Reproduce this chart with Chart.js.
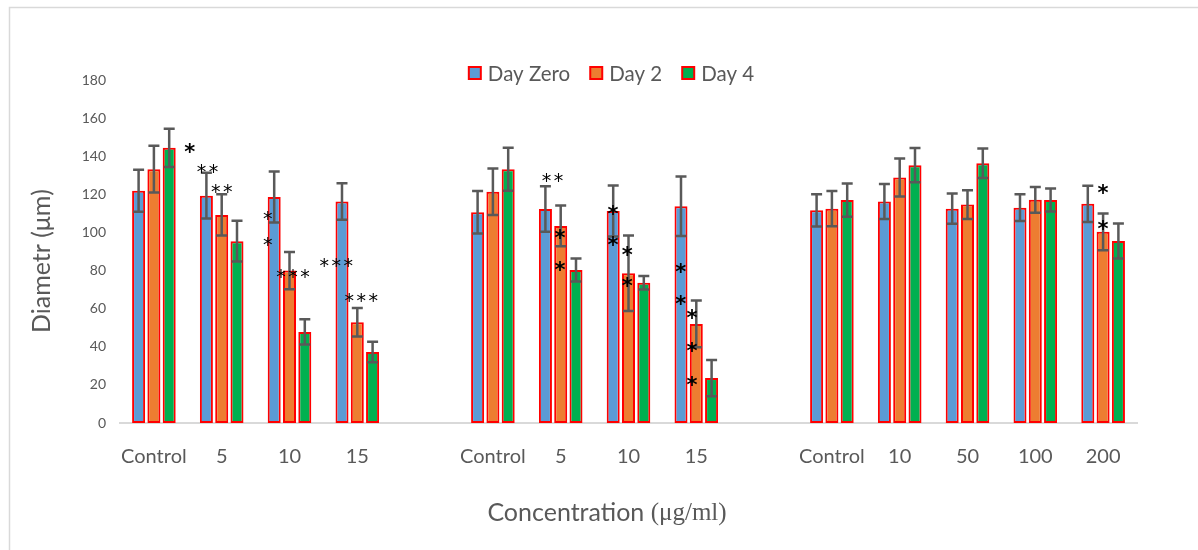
<!DOCTYPE html>
<html>
<head>
<meta charset="utf-8">
<script src="https://cdn.jsdelivr.net/npm/chart.js@4/dist/chart.umd.min.js"></script>
<style>
  html, body { margin: 0; padding: 0; background: #ffffff; }
  #wrap { width: 1198px; height: 550px; position: relative; }
</style>
</head>
<body>
<div id="wrap"><canvas id="c" width="1198" height="550"></canvas></div>
<script>
// ---- data ----
const categories = ['Control', '5', '10', '15', '', 'Control', '5', '10', '15', '', 'Control', '10', '50', '100', '200'];
const seriesNames = ['Day Zero', 'Day 2', 'Day 4'];
const dayZero = [121.9, 119.3, 118.6, 116.2, null, 110.6, 112.3, 111.3, 113.7, null, 111.6, 116.2, 112.5, 113.0, 115.0];
const day2    = [133.2, 109.2, 80.0, 52.9, null, 121.3, 103.4, 78.6, 52.0, null, 112.5, 128.8, 114.6, 117.1, 100.3];
const day4    = [144.4, 95.4, 47.8, 37.3, null, 133.2, 80.3, 73.6, 23.6, null, 117.0, 135.3, 136.3, 117.0, 95.5];
const errZero = [11.0, 12.0, 13.4, 9.6, null, 11.2, 12.0, 13.4, 15.6, null, 8.5, 9.2, 8.0, 7.0, 9.5];
const err2    = [12.3, 10.8, 9.8, 7.5, null, 12.2, 10.7, 19.8, 12.3, null, 9.2, 10.0, 7.6, 6.8, 9.7];
const err4    = [10.0, 10.7, 6.6, 5.4, null, 11.3, 6.0, 3.5, 9.5, null, 8.7, 9.0, 7.7, 6.0, 9.2];
const yTicks  = [0, 20, 40, 60, 80, 100, 120, 140, 160, 180];
// significance marks: [category index, offset in category widths, value, number of stars, large?]
const marks = [
  [0, 0.53, 144.4, 1, true],
  [1, -0.21, 133.3, 2, false],
  [1, 0.00, 122.8, 2, false],
  [2, -0.32, 108.7, 1, false],
  [2, -0.32, 95.0, 1, false],
  [2, 0.05, 78.7, 3, false],
  [3, -0.31, 84.0, 3, false],
  [3, 0.06, 66.1, 3, false],
  [6, -0.12, 128.6, 2, false],
  [6, -0.01, 99.2, 1, true],
  [6, -0.01, 82.4, 1, true],
  [7, -0.23, 111.8, 1, true],
  [7, -0.23, 95.5, 1, true],
  [7, -0.02, 90.3, 1, true],
  [7, -0.02, 74.0, 1, true],
  [8, -0.23, 81.4, 1, true],
  [8, -0.23, 64.6, 1, true],
  [8, -0.065, 57.2, 1, true],
  [8, -0.065, 39.9, 1, true],
  [8, -0.065, 22.0, 1, true],
  [14, 0.0, 122.8, 1, true],
  [14, 0.0, 103.9, 1, true]
];

const fills = ['#5b9bd5', '#ed7d31', '#00b050'];
const errs = [errZero, err2, err4];
const GRAY = '#595959';
const SANS = 'Lato, "Open Sans", sans-serif';

const errorBarPlugin = {
  id: 'errorBars',
  afterDatasetsDraw(chart) {
    const ctx = chart.ctx, ys = chart.scales.y;
    ctx.save();
    ctx.strokeStyle = GRAY;
    ctx.lineWidth = 2.5;
    chart.data.datasets.forEach((ds, i) => {
      const meta = chart.getDatasetMeta(i);
      ds.data.forEach((v, j) => {
        const e = errs[i][j];
        if (v == null || e == null) return;
        const bar = meta.data[j];
        const x = bar.x;
        const yt = ys.getPixelForValue(v + e), yb = ys.getPixelForValue(v - e);
        const hw = 5.5;
        ctx.beginPath();
        ctx.moveTo(x, yt); ctx.lineTo(x, yb);
        ctx.moveTo(x - hw, yt); ctx.lineTo(x + hw, yt);
        ctx.moveTo(x - hw, yb); ctx.lineTo(x + hw, yb);
        ctx.stroke();
      });
    });
    ctx.restore();
  }
};

const marksPlugin = {
  id: 'marks',
  afterDatasetsDraw(chart) {
    const ctx = chart.ctx, xs = chart.scales.x, ys = chart.scales.y;
    const cw = xs.getPixelForValue(1) - xs.getPixelForValue(0);
    ctx.save();
    ctx.fillStyle = '#000000';
    ctx.textAlign = 'center';
    ctx.textBaseline = 'alphabetic';
    marks.forEach(([c, dx, v, n, big]) => {
      ctx.font = big ? 'bold 21px "DejaVu Sans"' : '19px "DejaVu Sans"';
      const m = ctx.measureText('*');
      const x0 = xs.getPixelForValue(c) + dx * cw;
      const y = ys.getPixelForValue(v) + (m.actualBoundingBoxAscent - m.actualBoundingBoxDescent) / 2;
      const step = 12;
      for (let k = 0; k < n; k++) {
        ctx.fillText('*', x0 + (k - (n - 1) / 2) * step, y);
      }
    });
    ctx.restore();
  }
};

const decorPlugin = {
  id: 'decor',
  beforeDraw(chart) {
    const ctx = chart.ctx;
    ctx.save();
    ctx.fillStyle = '#ffffff';
    ctx.fillRect(0, 0, chart.width, chart.height);
    ctx.strokeStyle = '#d9d9d9';
    ctx.lineWidth = 1.5;
    ctx.strokeRect(9.5, 7.5, 1400, 700);
    ctx.restore();
  },
  afterDraw(chart) {
    const ctx = chart.ctx;
    ctx.save();
    // legend
    ctx.font = '20.5px ' + SANS;
    ctx.textBaseline = 'middle';
    ctx.textAlign = 'left';
    const box = 14, gapBT = 6, gapItem = 19;
    const widths = seriesNames.map(n => ctx.measureText(n).width);
    let total = 0;
    widths.forEach((w, i) => { total += box + gapBT + w + (i < widths.length - 1 ? gapItem : 0); });
    let x = 611 - total / 2;
    const cy = 73;
    seriesNames.forEach((n, i) => {
      ctx.fillStyle = '#ff0000';
      ctx.fillRect(x, cy - box / 2, box, box);
      ctx.fillStyle = fills[i];
      ctx.fillRect(x + 2, cy - box / 2 + 2, box - 4, box - 4);
      ctx.fillStyle = GRAY;
      ctx.fillText(n, x + box + gapBT, cy + 1);
      x += box + gapBT + widths[i] + gapItem;
    });
    // y title
    ctx.save();
    ctx.translate(42, 261);
    ctx.rotate(-Math.PI / 2);
    ctx.textAlign = 'center';
    ctx.font = '25px ' + SANS;
    ctx.fillStyle = GRAY;
    ctx.fillText('Diametr (\u03bcm)', 0, 0);
    ctx.restore();
    // x title
    const f1 = '25px ' + SANS, f2 = '25px "Liberation Serif", serif';
    ctx.font = f1; const w1 = ctx.measureText('Concentration ').width;
    ctx.font = f2; const w2 = ctx.measureText('(\u03bcg/ml)').width;
    let tx = 607 - (w1 + w2) / 2;
    ctx.fillStyle = GRAY;
    ctx.font = f1; ctx.fillText('Concentration ', tx, 513);
    ctx.font = f2; ctx.fillText('(\u03bcg/ml)', tx + w1, 513);
    ctx.restore();
  }
};

const datasets = [dayZero, day2, day4].map((d, i) => ({
  label: seriesNames[i],
  data: d,
  backgroundColor: fills[i],
  borderColor: '#ff0000',
  borderWidth: 2,
  borderSkipped: false,
  categoryPercentage: 0.677,
  barPercentage: 0.85
}));

new Chart(document.getElementById('c'), {
  type: 'bar',
  data: { labels: categories, datasets },
  options: {
    responsive: false,
    animation: false,
    devicePixelRatio: 1,
    layout: { padding: { left: 0, right: 61, top: 80, bottom: 0 } },
    plugins: { legend: { display: false }, tooltip: { enabled: false } },
    scales: {
      x: {
        grid: { display: false, drawTicks: false },
        border: { display: true, color: '#d9d9d9', width: 2 },
        ticks: { color: GRAY, font: { family: SANS, size: 20 }, padding: 22, maxRotation: 0, autoSkip: false },
        afterFit(s) { s.height = 127; }
      },
      y: {
        min: 0, max: 180,
        afterBuildTicks(s) { s.ticks = yTicks.map(v => ({ value: v })); },
        grid: { display: false, drawTicks: false },
        border: { display: false },
        ticks: { color: GRAY, font: { family: SANS, size: 14 }, padding: 14 },
        afterFit(s) { s.width = 120; }
      }
    }
  },
  plugins: [decorPlugin, errorBarPlugin, marksPlugin]
});
</script>
</body>
</html>
